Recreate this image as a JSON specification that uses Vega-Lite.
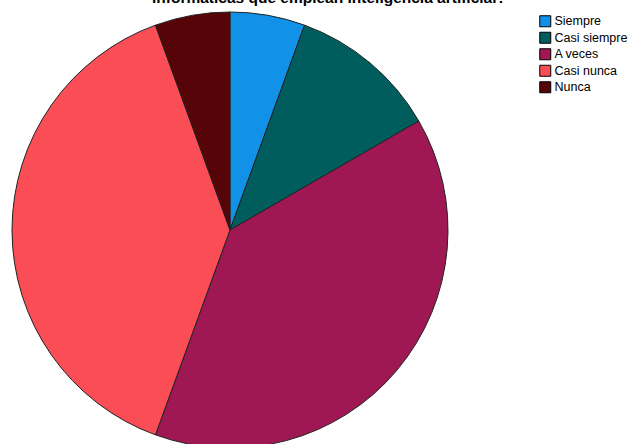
{
  "$schema": "https://vega.github.io/schema/vega-lite/v6.json",
  "width": 436,
  "height": 436,
  "autosize": {"type": "none"},
  "padding": {"left": 12, "top": 12, "right": 183, "bottom": 0},
  "background": "white",
  "config": {"view": {"stroke": null}, "font": "Liberation Sans"},
  "title": {
    "text": "informáticas que emplean inteligencia artificial?",
    "anchor": "middle",
    "dx": 99,
    "offset": -8,
    "fontSize": 15.5,
    "fontWeight": "bold",
    "font": "Liberation Sans",
    "color": "black",
    "baseline": "alphabetic"
  },
  "data": {
    "values": [
      {"respuesta": "Siempre", "n": 1, "orden": 1},
      {"respuesta": "Casi siempre", "n": 2, "orden": 2},
      {"respuesta": "A veces", "n": 7, "orden": 3},
      {"respuesta": "Casi nunca", "n": 7, "orden": 4},
      {"respuesta": "Nunca", "n": 1, "orden": 5}
    ]
  },
  "mark": {"type": "arc", "stroke": "#222222", "strokeWidth": 1},
  "encoding": {
    "theta": {"field": "n", "type": "quantitative", "stack": true},
    "order": {"field": "orden", "type": "quantitative"},
    "color": {
      "field": "respuesta",
      "type": "nominal",
      "scale": {
        "domain": ["Siempre", "Casi siempre", "A veces", "Casi nunca", "Nunca"],
        "range": ["#1192e8", "#005d5d", "#9f1853", "#fa4d56", "#570408"]
      },
      "legend": {
        "title": null,
        "orient": "none",
        "legendX": 527,
        "legendY": 3,
        "symbolType": "square",
        "symbolSize": 121,
        "symbolStrokeColor": "black",
        "symbolStrokeWidth": 1,
        "symbolOpacity": 1,
        "labelFontSize": 12.5,
        "labelFont": "Liberation Sans",
        "labelColor": "black",
        "labelOffset": 3,
        "rowPadding": 0.5,
        "padding": 0
      }
    }
  }
}
